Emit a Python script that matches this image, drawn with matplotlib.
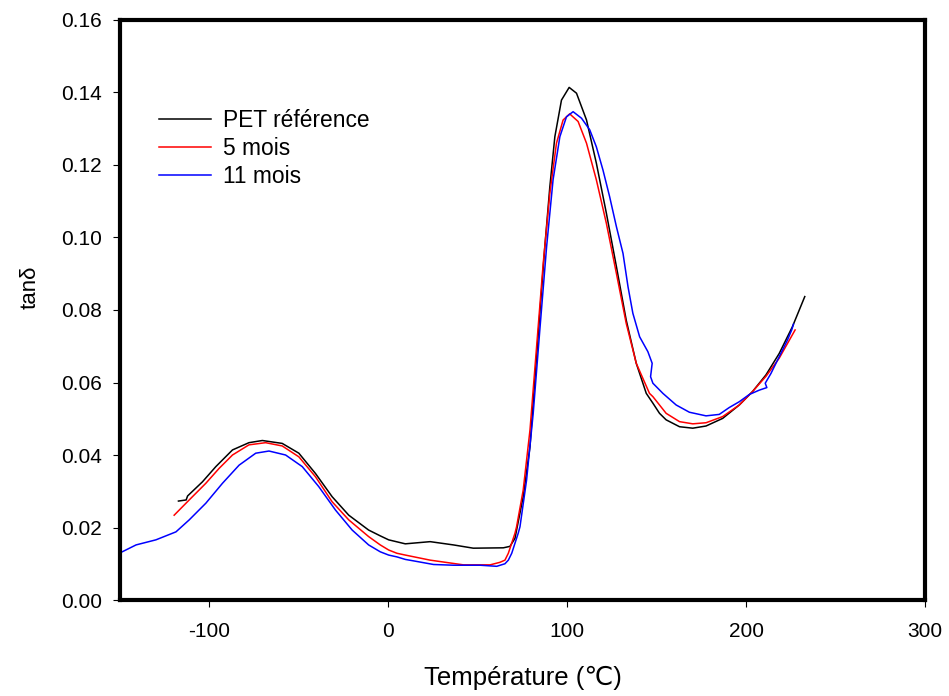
import numpy as np
import matplotlib
matplotlib.use('Agg')
import matplotlib.pyplot as plt

plt.rcParams['font.family'] = ['Liberation Sans', 'DejaVu Sans']
plt.rcParams['axes.unicode_minus'] = False

# PET référence
ref_t = [-117.3, -113.0, -112.2, -103.9, -96.4, -87.1, -77.9, -70.4, -59.3,
         -50.0, -40.7, -31.4, -22.1, -11.0, -4.5, 0.2, 9.5, 23.4, 36.4, 47.5,
         64.3, 68.0, 70.8, 75.4, 79.2, 81.9, 84.7, 87.5, 90.3, 93.1, 96.8,
         101.1, 105.2, 110.8, 116.3, 121.9, 127.5, 133.0, 138.6, 144.2, 147.9,
         151.6, 155.3, 162.8, 170.2, 177.6, 186.9, 196.2, 203.6, 211.1, 218.5,
         225.9, 232.8]
ref_tan = [0.0273, 0.0276, 0.0287, 0.0326, 0.0368, 0.0414, 0.0434, 0.0440,
           0.0432, 0.0405, 0.0349, 0.0285, 0.0234, 0.0193, 0.0177, 0.0166,
           0.0155, 0.0161, 0.0152, 0.0143, 0.0144, 0.0148, 0.0170, 0.0285,
           0.0423, 0.0607, 0.0791, 0.0975, 0.1140, 0.1278, 0.1379, 0.1414,
           0.1398, 0.1324, 0.1205, 0.1067, 0.0920, 0.0772, 0.0653, 0.0570,
           0.0543, 0.0515, 0.0497, 0.0478, 0.0474, 0.0480, 0.0501, 0.0538,
           0.0575, 0.0621, 0.0680, 0.0754, 0.0837]

# 5 mois
m5_t = [-119.7, -111.3, -102.0, -94.6, -87.1, -77.9, -68.6, -59.3, -50.0,
        -40.7, -31.4, -22.1, -11.0, -4.5, 0.2, 4.8, 9.5, 23.4, 42.0, 56.9,
        62.4, 65.2, 67.1, 70.8, 71.7, 75.4, 79.2, 82.9, 86.6, 90.3, 94.0,
        97.7, 101.4, 106.1, 110.8, 116.3, 121.9, 127.5, 133.0, 138.6, 146.0,
        147.9, 155.3, 162.8, 170.2, 177.6, 186.9, 196.2, 203.6, 211.1, 218.5,
        227.4]
m5_tan = [0.0234, 0.0276, 0.0322, 0.0363, 0.0400, 0.0428, 0.0434, 0.0425,
          0.0395, 0.0340, 0.0271, 0.0221, 0.0175, 0.0152, 0.0138, 0.0129,
          0.0124, 0.0110, 0.0097, 0.0097, 0.0104, 0.0110, 0.0129, 0.0184,
          0.0202, 0.0303, 0.0469, 0.0699, 0.0929, 0.1122, 0.1260, 0.1324,
          0.1341, 0.1320, 0.1260, 0.1159, 0.1039, 0.0901, 0.0763, 0.0653,
          0.0570, 0.0561, 0.0515, 0.0492, 0.0486, 0.0489, 0.0506, 0.0538,
          0.0575, 0.0617, 0.0667, 0.0745]

# 11 mois
m11_t = [-152.0, -141.0, -129.9, -118.7, -111.3, -102.0, -92.7, -83.4, -74.1,
         -66.7, -57.4, -48.1, -38.9, -29.5, -20.2, -11.0, -4.5, 0.2, 4.8,
         9.5, 14.1, 25.3, 36.4, 51.3, 60.6, 65.2, 67.1, 69.0, 72.6, 73.6,
         77.3, 81.0, 84.7, 88.5, 92.1, 95.9, 99.6, 103.3, 108.0, 112.6,
         116.3, 120.0, 123.7, 127.5, 131.2, 134.0, 136.7, 140.5, 145.1,
         147.5, 146.6, 147.9, 153.5, 160.9, 168.3, 177.6, 185.0, 190.6,
         196.2, 201.8, 207.4, 211.6, 210.7, 213.9, 218.5, 223.1, 225.5, 226.5]
m11_tan = [0.0125, 0.0152, 0.0166, 0.0188, 0.0221, 0.0267, 0.0322, 0.0372,
           0.0405, 0.0411, 0.0400, 0.0368, 0.0313, 0.0248, 0.0193, 0.0152,
           0.0133, 0.0124, 0.0119, 0.0112, 0.0108, 0.0098, 0.0096, 0.0096,
           0.0093, 0.0100, 0.0110, 0.0129, 0.0184, 0.0202, 0.0331, 0.0515,
           0.0745, 0.0975, 0.1159, 0.1278, 0.1333, 0.1347, 0.1329, 0.1297,
           0.1250, 0.1186, 0.1113, 0.1030, 0.0956, 0.0864, 0.0791, 0.0726,
           0.0685, 0.0653, 0.0616, 0.0598, 0.0570, 0.0538, 0.0518, 0.0508,
           0.0512, 0.0531, 0.0547, 0.0567, 0.0579, 0.0586, 0.0598, 0.0625,
           0.0671, 0.0717, 0.0745, 0.0761]

series = [("PET référence", ref_t, ref_tan, 'k'),
          ("5 mois", m5_t, m5_tan, 'r'),
          ("11 mois", m11_t, m11_tan, 'b')]

fig = plt.figure(figsize=(9.49, 6.96), dpi=100)
ax = fig.add_axes([0.1264, 0.1379, 0.8483, 0.8334])

for nom, t, v, c in series:
    ax.plot(t, v, color=c, lw=1.1, label=nom)

ax.set_xlim(-150, 300)
ax.set_ylim(0, 0.16)
ax.set_xticks([-100, 0, 100, 200, 300])
ax.set_yticks(np.arange(0, 0.161, 0.02))
ax.yaxis.set_major_formatter(matplotlib.ticker.FormatStrFormatter('%.2f'))

for sp in ax.spines.values():
    sp.set_linewidth(3)
ax.tick_params(direction='out', length=5, width=0.8, labelsize=15)
ax.tick_params(axis='x', pad=11)
ax.tick_params(axis='y', pad=8)

ax.set_xlabel("Température (℃)", fontsize=18.5, labelpad=18)
ax.set_ylabel("tanδ", fontsize=16)
ax.yaxis.set_label_coords(-0.099, 0.54)

ax.legend(loc='upper left', bbox_to_anchor=(0.037, 0.863), frameon=False,
          fontsize=16.4, handlelength=2.28, handletextpad=0.53,
          labelspacing=0.23, borderaxespad=0)

fig.savefig('out.png', dpi=100)
